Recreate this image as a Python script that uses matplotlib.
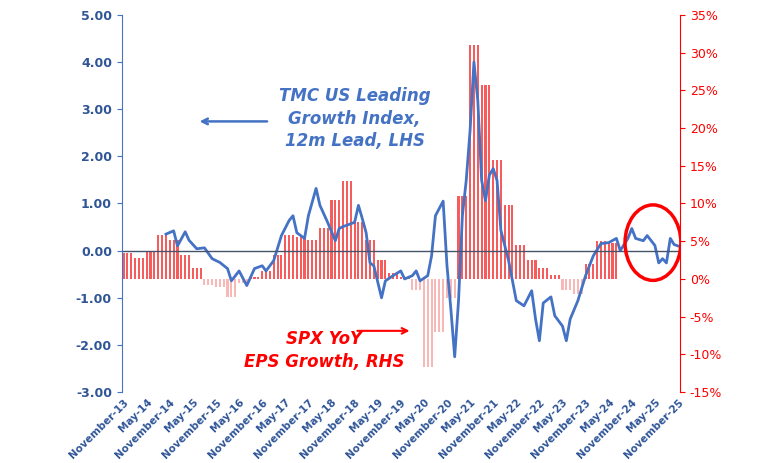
import matplotlib.pyplot as plt
import numpy as np
import pandas as pd
from matplotlib.patches import Ellipse

# quarterly SPX YoY EPS growth (%), each value held for 3 months starting Nov-2013
eps_quarterly = [3.5, 2.8, 3.6, 5.8, 5.2, 3.2, 1.5, -0.8, -1.1, -2.4, -0.6, 0.3, 1.0, 3.2,
                 5.8, 5.5, 5.2, 6.8, 10.5, 13.0, 7.5, 5.2, 2.5, 0.8, 0.2, -1.5, -11.7, -7.0,
                 -2.5, 11.0, 31.0, 25.7, 15.8, 9.8, 4.5, 2.5, 1.5, 0.5, -1.5, -2.0, 2.0,
                 5.0, 4.8]

# TMC leading growth index, month offset from Nov-2013 and value
lead_months = [11, 13, 14, 16, 17, 19, 21, 23, 25, 27, 28, 30, 32, 34, 36, 37, 39, 41, 43, 44,
               45, 47, 48, 50, 51, 53, 55, 56, 57, 60, 61, 62, 63, 64, 65, 67, 68, 70, 72, 73,
               75, 76, 77, 79, 80, 81, 83, 84, 85, 86, 87, 88, 89, 90, 91, 92, 93, 94, 95, 96,
               97, 98, 100, 102, 104, 106, 107, 108, 109, 111, 112, 113, 114, 115, 116, 118,
               120, 122, 124, 126, 128, 129, 131, 132, 133, 135, 136, 138, 139, 140, 141, 142,
               143, 144]
lead_vals = [0.35, 0.42, 0.10, 0.40, 0.22, 0.04, 0.06, -0.17, -0.25, -0.38, -0.64, -0.43,
             -0.74, -0.38, -0.32, -0.43, -0.21, 0.32, 0.64, 0.74, 0.38, 0.26, 0.74, 1.32, 0.96,
             0.60, 0.21, 0.47, 0.51, 0.60, 0.96, 0.68, 0.38, -0.26, -0.32, -1.00, -0.64,
             -0.53, -0.43, -0.60, -0.53, -0.43, -0.64, -0.53, -0.11, 0.74, 1.05, -0.32, -1.23,
             -2.25, -1.06, 0.74, 1.49, 2.55, 4.00, 3.19, 1.49, 1.06, 1.60, 1.74, 1.49, 0.43,
             -0.21, -1.06, -1.17, -0.85, -1.45, -1.91, -1.11, -0.98, -1.38, -1.49, -1.60,
             -1.91, -1.45, -1.06, -0.53, -0.11, 0.15, 0.17, 0.26, 0.0, 0.26, 0.47, 0.26, 0.21,
             0.32, 0.11, -0.26, -0.17, -0.26, 0.26, 0.13, 0.10]

start = pd.Timestamp('2013-11-01')
tick_months = list(range(0, 145, 6))
tick_labels = [(start + pd.DateOffset(months=m)).strftime('%B-%y') for m in tick_months]

eps = np.repeat(eps_quarterly, 3)
bar_x = np.arange(len(eps))
blue = '#4472C4'
red = '#FF0000'

fig = plt.figure(figsize=(7.7, 4.63), dpi=100)
ax = fig.add_axes([0.158, 0.153, 0.725, 0.815])
ax2 = ax.twinx()

bar_colors = ['#F75C5C' if v >= 0 else '#F9B8B8' for v in eps]
ax2.bar(bar_x, eps, width=0.55, color=bar_colors, zorder=1)
ax2.set_ylim(-15, 35)
ax2.set_yticks(range(-15, 36, 5))
ax2.set_yticklabels([f'{v}%' for v in range(-15, 36, 5)], color=red, fontsize=9)
ax2.tick_params(axis='y', colors=red, labelcolor=red)

ax.set_zorder(ax2.get_zorder() + 1)
ax.patch.set_visible(False)
ax.plot(lead_months, lead_vals, color=blue, lw=2)
ax.axhline(0, color='#44546A', lw=1)
ax.set_ylim(-3, 5)
ax.set_xlim(-0.5, 144.5)
ax.set_yticks(range(-3, 6))
ax.set_yticklabels([f'{v:.2f}' for v in range(-3, 6)], color='#2F5597', fontsize=9,
                   fontweight='bold')
ax.set_xticks(tick_months)
ax.set_xticklabels(tick_labels, rotation=45, ha='right', color='#2F5597', fontsize=7.5,
                   fontweight='bold', rotation_mode='anchor')
ax.tick_params(axis='x', length=0)

for a in (ax, ax2):
    a.spines['top'].set_visible(False)
    a.spines['bottom'].set_visible(False)
ax.spines['left'].set_color(blue)
ax.spines['right'].set_visible(False)
ax2.spines['left'].set_visible(False)
ax2.spines['right'].set_color(red)
ax.tick_params(axis='y', colors=blue, labelcolor='#2F5597')

ax.text(60, 2.8, 'TMC US Leading\nGrowth Index,\n12m Lead, LHS', color=blue, fontsize=12,
        fontstyle='italic', fontweight='bold', ha='center', va='center', linespacing=1.35)
ax.annotate('', xy=(19, 2.74), xytext=(38, 2.74),
            arrowprops=dict(arrowstyle='->', color=blue, lw=1.8))
ax.text(52, -2.12, 'SPX YoY\nEPS Growth, RHS', color=red, fontsize=12, fontstyle='italic',
        fontweight='bold', ha='center', va='center', linespacing=1.35)
ax.annotate('', xy=(75, -1.7), xytext=(60, -1.7),
            arrowprops=dict(arrowstyle='->', color=red, lw=1.5))
ax.add_patch(Ellipse((137.5, 0.17), 14.5, 1.6, angle=0, fill=False, ec=red, lw=2.5,
                     zorder=5))

fig.savefig('out.png', dpi=100)
